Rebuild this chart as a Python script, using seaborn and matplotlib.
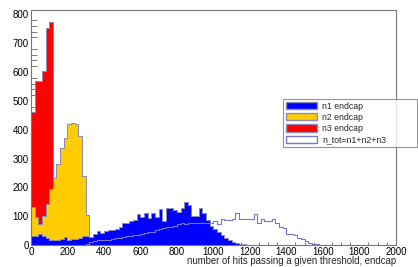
import numpy as np
import pandas as pd
import matplotlib
matplotlib.use("Agg")
import matplotlib.pyplot as plt
from matplotlib.patches import Patch
from matplotlib.ticker import MultipleLocator
import seaborn as sns

# bin width 20 hits
bin_width = 20

n3_start = 0
n3_counts = [460, 568, 568, 602, 753, 775]

n2_start = 0
n2_counts = [133, 97, 72, 100, 142, 195, 232, 281, 336, 371, 420, 423, 420, 378, 240, 103]

n1_start = 0
n1_counts = [31, 31, 38, 31, 24, 17, 18, 18, 22, 27, 16, 20, 20, 25, 33, 33,
             29, 40, 48, 43, 48, 54, 54, 56, 64, 78, 75, 83, 86, 107, 98, 113,
             95, 110, 96, 124, 84, 128, 128, 122, 115, 130, 150, 140, 102, 102,
             128, 110, 87, 66, 57, 45, 35, 25, 17, 11, 8, 5, 3, 2, 1]

ntot_start = 300
ntot_counts = [5, 10, 13, 17, 17, 19, 19, 22, 23, 26, 27, 30, 31, 34, 36, 40,
               42, 44, 47, 51, 55, 58, 62, 64, 66, 72, 77, 74, 75, 76, 75, 76,
               75, 76, 78, 82, 73, 89, 86, 88, 89, 113, 92, 90, 89, 89, 107, 77,
               92, 84, 85, 89, 77, 64, 58, 40, 40, 35, 23, 20, 15, 8, 3, 3,
               1, 1, 1, 0, 1, 0, 1]

labels = ["n1 endcap", "n2 endcap", "n3 endcap", "n_tot=n1+n2+n3"]


def to_frame(start, counts):
    centers = start + bin_width * (np.arange(len(counts)) + 0.5)
    edges = [start + bin_width * i for i in range(len(counts) + 1)]
    return pd.DataFrame({"x": centers, "w": counts}), edges


sns.set_style("white")
plt.rcParams["font.family"] = ["Liberation Sans", "DejaVu Sans"]

fig = plt.figure(figsize=(4.18, 2.67), dpi=100)
ax = fig.add_axes([0.074, 0.082, 0.873, 0.8805])

edge = "#8c8cb4"
for (start, counts, color) in [(n3_start, n3_counts, "#ff0000"),
                               (n2_start, n2_counts, "#ffcc00"),
                               (n1_start, n1_counts, "#0000ff")]:
    df, edges = to_frame(start, counts)
    sns.histplot(data=df, x="x", weights="w", bins=edges, element="step",
                 fill=True, color=color, alpha=1, edgecolor=edge,
                 linewidth=0.7, ax=ax)

df, edges = to_frame(ntot_start, ntot_counts)
sns.histplot(data=df, x="x", weights="w", bins=edges, element="step",
             fill=False, color="#7777cc", linewidth=0.8, ax=ax)

ax.set_xlim(0, 2000)
ax.set_ylim(0, 815)
ax.set_ylabel("")
ax.set_xlabel("number of hits passing a given threshold, endcap",
              fontsize=6.9, ha="right", va="top")
ax.xaxis.set_label_coords(1.0, -0.048)

ax.xaxis.set_major_locator(MultipleLocator(200))
ax.xaxis.set_minor_locator(MultipleLocator(50))
ax.yaxis.set_major_locator(MultipleLocator(100))
ax.yaxis.set_minor_locator(MultipleLocator(20))
ax.tick_params(axis="both", which="both", direction="in", colors="#666666",
               labelcolor="black", labelsize=7, pad=1.5)
ax.tick_params(axis="y", which="major", length=8, width=0.8)
ax.tick_params(axis="y", which="minor", length=4, width=0.6, left=True)
ax.tick_params(axis="x", which="major", length=5, width=0.8)
ax.tick_params(axis="x", which="minor", length=2.5, width=0.6, bottom=True)
for sp in ax.spines.values():
    sp.set_color("#777777")
    sp.set_linewidth(0.8)

handles = [Patch(facecolor="#0000ff", edgecolor=edge),
           Patch(facecolor="#ffcc00", edgecolor=edge),
           Patch(facecolor="#ff0000", edgecolor=edge),
           Patch(facecolor="white", edgecolor="#7777cc")]
leg = fig.legend(handles, labels, loc="upper left",
                 bbox_to_anchor=(0.677, 0.464, 0.32, 0.165), mode="expand",
                 fontsize=6.3, frameon=True, fancybox=False, borderaxespad=0,
                 handlelength=3.6, handleheight=0.9, handletextpad=0.6,
                 labelspacing=0.25, borderpad=0.3)
leg.get_frame().set_edgecolor("#777777")
leg.get_frame().set_linewidth(0.8)

fig.savefig("out.png", dpi=100)
